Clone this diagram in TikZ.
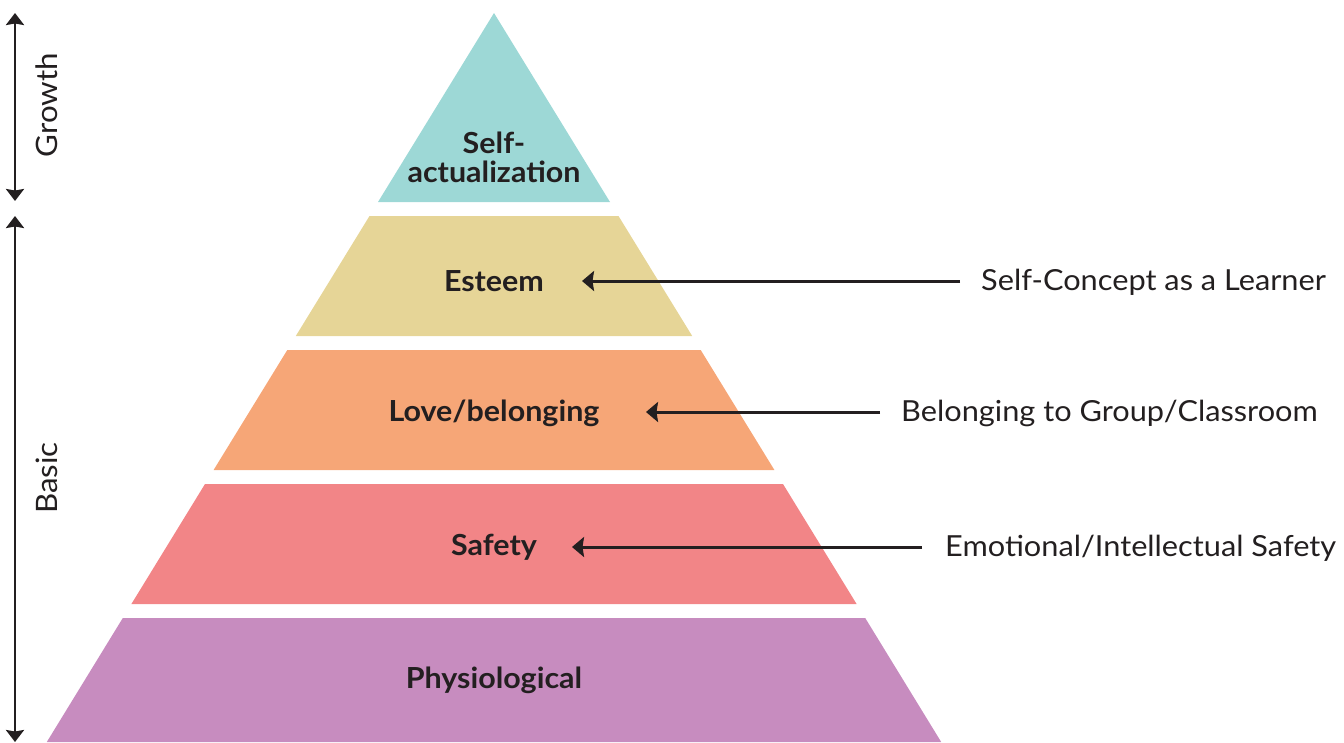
\documentclass[tikz,border=0pt]{standalone}
\usepackage{fontspec}
\setmainfont{Lato}
\newfontfamily\levelfont{Lato}[FakeStretch=1.05]
\newfontfamily\sidefont{Lato}[FakeStretch=1.06]
\usetikzlibrary{arrows.meta}
\definecolor{ink}{HTML}{231F20}
\definecolor{selfact}{HTML}{9DD8D6}
\definecolor{esteemc}{HTML}{E6D597}
\definecolor{lovec}{HTML}{F6A677}
\definecolor{safetyc}{HTML}{F28587}
\definecolor{physc}{HTML}{C78CBF}
\tikzset{
  levellabel/.style={text=ink, font=\levelfont\bfseries\fontsize{29}{33}\selectfont, align=center, inner sep=0pt},
  sidelabel/.style={text=ink, font=\sidefont\fontsize{29}{33}\selectfont, inner sep=0pt, anchor=west},
  rangelabel/.style={text=ink, font=\sidefont\fontsize{29.5}{33}\selectfont, inner sep=0pt, rotate=90},
  pointer/.style={draw=ink, line width=3pt, -{Triangle[length=12pt,width=20pt,inset=1.5pt]}},
  rangearrow/.style={draw=ink, line width=2.6pt, {Triangle[length=12pt,width=18pt,inset=1.5pt]}-{Triangle[length=12pt,width=18pt,inset=1.5pt]}}
}
\begin{document}
\begin{tikzpicture}[x=1pt,y=-1pt]
\useasboundingbox (0,0) rectangle (1344,742);

% pyramid bands
\fill[selfact] (494,13) -- (610,202) -- (378,202) -- cycle;
\fill[esteemc] (369.5,216) -- (618.5,216) -- (692.2,336) -- (295.8,336) -- cycle;
\fill[lovec] (287.3,350) -- (700.7,350) -- (774.4,470) -- (213.6,470) -- cycle;
\fill[safetyc] (205,484) -- (783,484) -- (856.6,604) -- (131.4,604) -- cycle;
\fill[physc] (122.8,618) -- (865.2,618) -- (941.2,742) -- (46.8,742) -- cycle;

% level labels
\node[levellabel] (lself) at (494,157) {Self-\\[-4pt]actualization};
\node[levellabel] (lesteem) at (494,281) {Esteem};
\node[levellabel] (llove) at (494,413) {Love/belonging};
\node[levellabel] (lsafety) at (494,547) {Safety};
\node[levellabel] (lphys) at (494,680) {Physiological};

% side descriptions
\node[sidelabel] (testeem) at (981,282) {Self-Concept as a Learner};
\node[sidelabel] (tlove) at (901,413) {Belonging to Group/Classroom};
\node[sidelabel] (tsafety) at (945,548) {Emotional/Intellectual Safety};

\coordinate (aesteem) at (582,281);
\coordinate (alove) at (646,412);
\coordinate (asafety) at (572,547);
\draw[pointer] ([xshift=-21pt]testeem.west |- aesteem) -- (aesteem);
\draw[pointer] ([xshift=-21pt]tlove.west |- alove) -- (alove);
\draw[pointer] ([xshift=-23pt]tsafety.west |- asafety) -- (asafety);

% range indicators
\coordinate (gtop) at (15,13);
\coordinate (gbot) at (15,201);
\coordinate (btop) at (15,216);
\coordinate (bbot) at (15,742);
\draw[rangearrow] (gtop) -- (gbot);
\draw[rangearrow] (btop) -- (bbot);
\node[rangelabel] (growth) at (47,105) {Growth};
\node[rangelabel] (basic) at (47,478) {Basic};
\end{tikzpicture}
\end{document}
